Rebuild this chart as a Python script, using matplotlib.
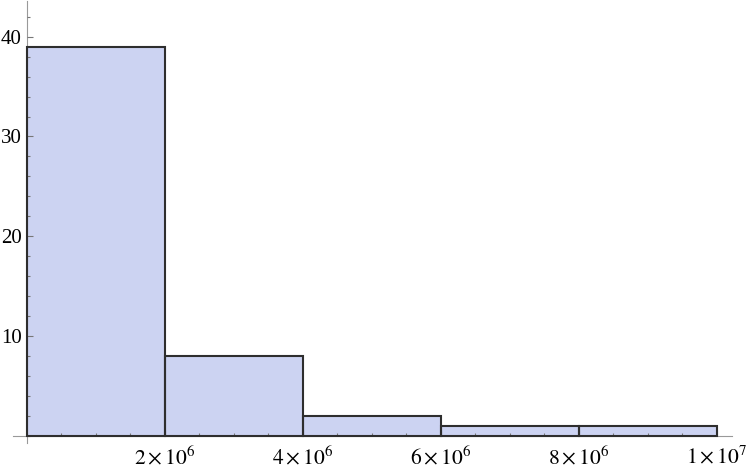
import numpy as np
import matplotlib.pyplot as plt
from matplotlib.ticker import MultipleLocator, FixedLocator

plt.rcParams['mathtext.fontset'] = 'stix'
plt.rcParams['font.family'] = ['Liberation Serif', 'DejaVu Serif']

# histogram data
bin_edges = [0, 2e6, 4e6, 6e6, 8e6, 1e7]
counts = [39, 8, 2, 1, 1]
x_ticks = [2e6, 4e6, 6e6, 8e6, 1e7]
x_labels = [r'$2\times10^{6}$', r'$4\times10^{6}$', r'$6\times10^{6}$',
            r'$8\times10^{6}$', r'$1\times10^{7}$']
y_ticks = [10, 20, 30, 40]

fill = '#CCD3F2'
edge = '#2E2E2E'
axis_col = '#999999'

fig = plt.figure(figsize=(7.5, 4.71), dpi=100)
ax = fig.add_axes([13.2 / 750, 1 - 443 / 471, (731.8 - 13.2) / 750, 442.3 / 471])

widths = np.diff(bin_edges)
lefts = bin_edges[:-1]
ax.bar(lefts, counts, width=widths, align='edge', color=fill, linewidth=0, zorder=1)
ax.bar(lefts, counts, width=widths, align='edge', fill=False, edgecolor=edge,
       linewidth=1.5, zorder=3)

ax.set_xlim(-0.2e6, 1.0215e7)
ax.set_ylim(-0.7, 43.6)
ax.set_axisbelow(False)

for s in ['top', 'right']:
    ax.spines[s].set_visible(False)
for s in ['left', 'bottom']:
    ax.spines[s].set_position(('data', 0))
    ax.spines[s].set_color(axis_col)
    ax.spines[s].set_linewidth(0.8)

ax.xaxis.set_major_locator(FixedLocator(x_ticks))
ax.set_xticklabels(x_labels, fontsize=15.5)
ax.xaxis.set_minor_locator(MultipleLocator(0.5e6))
ax.yaxis.set_major_locator(FixedLocator(y_ticks))
ax.yaxis.set_minor_locator(MultipleLocator(2))

ax.tick_params(which='both', direction='in', color='#777777', width=0.8,
               labelcolor='black')
ax.tick_params(axis='y', labelsize=15)
ax.tick_params(which='major', length=4.5)
ax.tick_params(which='minor', length=2.5)
ax.tick_params(axis='x', pad=7)
ax.tick_params(axis='y', pad=4)

fig.savefig('out.png', dpi=100)
